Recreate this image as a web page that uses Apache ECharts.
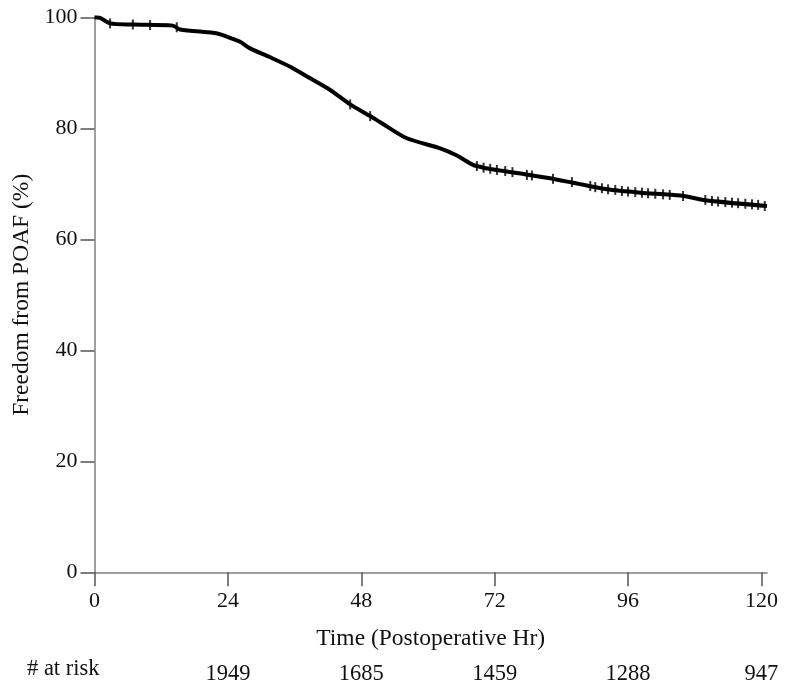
<!DOCTYPE html>
<html>
<head>
<meta charset="utf-8">
<script src="https://cdn.jsdelivr.net/npm/echarts@6/dist/echarts.min.js"></script>
<style>html,body{margin:0;padding:0;background:#fff;}#c{width:785px;height:685px;}</style>
</head>
<body>
<div id="c"></div>
<script>
// Kaplan-Meier curve: [time (hr), freedom from POAF (%)]
var curve = [[0,100],[1,99.9],[2.8,98.9],[6.9,98.7],[14.1,98.5],[15.4,97.8],[21.3,97.2],[23.1,96.8],[24.4,96.3],[26.2,95.6],[28.0,94.4],[31.6,92.8],[35.2,91.1],[38.8,89.0],[42.4,86.9],[46.0,84.3],[49.6,82.2],[51.4,81.1],[56.2,78.2],[62.2,76.4],[65.2,75.1],[68.1,73.4],[70,72.9],[73.0,72.4],[77,71.8],[81.4,71.1],[86.1,70.2],[92.2,69.0],[98.2,68.4],[105.4,67.9],[110.2,67.0],[121.0,66.0]];
// censored observations: [time, %]
var censored = [[2.8,98.9],[6.9,98.7],[10,98.6],[14.8,98.2],[46.0,84.3],[49.6,82.2],
 [68.8,73.2],[70.0,72.9],[71.2,72.7],[72.4,72.5],[73.9,72.3],[75.2,72.1],[77.8,71.6],[78.7,71.5],[82.5,70.9],[85.9,70.3],
 [89.2,69.6],[90.1,69.4],[91.3,69.2],[92.4,69.0],[93.7,68.9],[94.9,68.7],[96.0,68.6],[97.3,68.5],[98.5,68.4],[99.6,68.3],
 [100.9,68.2],[102.3,68.1],[103.5,68.0],[105.9,67.8],[109.9,67.1],[111.1,66.9],[112.2,66.8],[113.5,66.7],[114.7,66.6],
 [115.8,66.5],[117.1,66.4],[118.3,66.3],[119.4,66.2],[120.6,66.0]];
var xTicks = [0,24,48,72,96,120];
var riskTimes = [24,48,72,96,120];
var riskCounts = [1949,1685,1459,1288,947];

var font = 'Liberation Serif';
var axisGray = '#808080';
var chart = echarts.init(document.getElementById('c'));
chart.setOption({
  animation: false,
  backgroundColor: '#fff',
  grid: {left: 94.5, right: 18, top: 17.3, bottom: 112.7, containLabel: false, outerBoundsMode: 'none'},
  xAxis: [{
    type: 'value', min: 0, max: 121,
    axisLine: {show: true, onZero: false, lineStyle: {color: axisGray, width: 1.5}},
    axisTick: {show: true, length: 14, customValues: xTicks, lineStyle: {color: '#555', width: 1.5}},
    axisLabel: {customValues: xTicks, color: '#111', fontFamily: font, fontSize: 22, margin: 18},
    splitLine: {show: false},
    name: 'Time (Postoperative Hr)', nameLocation: 'middle', nameGap: 55,
    nameTextStyle: {color: '#111', fontFamily: font, fontSize: 23.5}
  }, {
    type: 'value', min: 0, max: 121, position: 'bottom', offset: 82,
    axisLine: {show: false}, axisTick: {show: false}, splitLine: {show: false},
    axisLabel: {customValues: riskTimes, color: '#111', fontFamily: font, fontSize: 22.5,
      formatter: function (v) { var i = riskTimes.indexOf(v); return i >= 0 ? String(riskCounts[i]) : ''; }}
  }],
  yAxis: {
    type: 'value', min: 0, max: 100, interval: 20,
    axisLine: {show: true, lineStyle: {color: axisGray, width: 1.5}},
    axisTick: {show: true, length: 14, lineStyle: {color: '#555', width: 1.5}},
    axisLabel: {color: '#111', fontFamily: font, fontSize: 22, margin: 17},
    splitLine: {show: false},
    name: 'Freedom from POAF (%)', nameLocation: 'middle', nameGap: 61,
    nameTextStyle: {color: '#111', fontFamily: font, fontSize: 23.5}
  },
  graphic: [{
    type: 'text', left: 27, top: 658,
    style: {text: '# at risk', fill: '#111', font: '22.5px "Liberation Serif"'}
  }],
  series: [{
    type: 'line', data: curve, showSymbol: false, symbol: 'none', smooth: 0.25,
    lineStyle: {color: '#000', width: 4}, z: 3
  }, {
    type: 'scatter', data: censored, symbol: 'rect', symbolSize: [2, 10],
    itemStyle: {color: '#000'}, z: 4
  }]
});
</script>
</body>
</html>
